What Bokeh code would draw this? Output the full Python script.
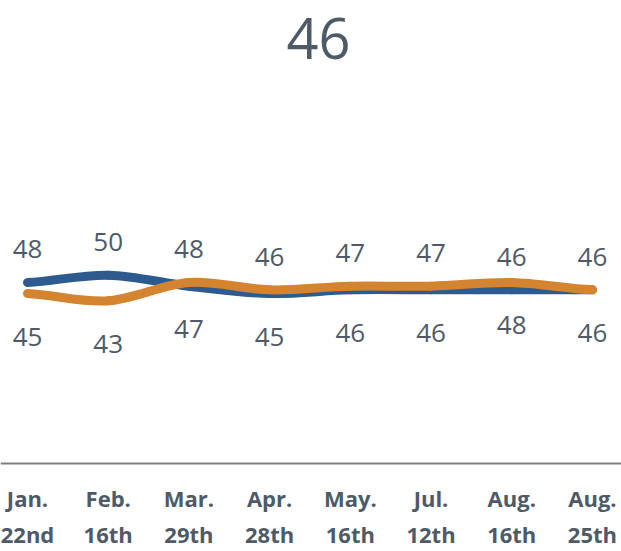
import numpy as np
from bokeh.plotting import figure
from bokeh.models import ColumnDataSource, Range1d, Span
from bokeh.core.properties import value
from bokeh.embed import file_html
from bokeh.resources import INLINE

# ---- data ----
months = ["Jan.", "Feb.", "Mar.", "Apr.", "May.", "Jul.", "Aug.", "Aug."]
days = ["22nd", "16th", "29th", "28th", "16th", "12th", "16th", "25th"]
headline = "46"
blue_values = [48, 50, 47, 45, 46, 46, 46, 46]
orange_values = [45, 43, 48, 46, 47, 47, 48, 46]
# which series' label sits above the lines at each date
top_label_series = ["blue", "blue", "orange", "orange", "orange", "orange", "blue", "blue"]

BLUE = "#2d5b8f"
ORANGE = "#d4842f"
TEXT = "#4e5a68"
FONT = "Open Sans"

x = np.arange(len(months), dtype=float)
series = {"blue": np.array(blue_values, float), "orange": np.array(orange_values, float)}

p = figure(width=621, height=551,
           x_range=Range1d(-0.3345, 7.360), y_range=Range1d(-25.30, 124.84),
           output_backend="svg", toolbar_location=None,
           x_axis_location=None, y_axis_location=None,
           min_border=0, min_border_left=0, min_border_right=0,
           min_border_top=0, min_border_bottom=0)
p.outline_line_color = None
p.grid.visible = False
p.background_fill_color = "white"
p.border_fill_color = "white"


def bezier_source(xs, ys):
    n = len(xs)
    ext = np.concatenate([[ys[0]], ys, [ys[-1]]])
    x0 = xs[:-1]; x1 = xs[1:]
    y0 = ys[:-1]; y1 = ys[1:]
    d = (xs[1] - xs[0]) / 3.0
    cy0 = y0 + (ext[2:n + 1] - ext[0:n - 1]) / 6.0
    cy1 = y1 - (ext[3:n + 2] - ext[1:n]) / 6.0
    return ColumnDataSource(dict(x0=x0, y0=y0, x1=x1, y1=y1,
                                 cx0=x0 + d, cy0=cy0, cx1=x1 - d, cy1=cy1))


for name, color in [("blue", BLUE), ("orange", ORANGE)]:
    src = bezier_source(x, series[name])
    p.bezier(x0="x0", y0="y0", x1="x1", y1="y1", cx0="cx0", cy0="cy0",
             cx1="cx1", cy1="cy1", source=src, line_color=color,
             line_width=9, line_cap="round")

top_vals, bot_vals = [], []
for i, s in enumerate(top_label_series):
    other = "orange" if s == "blue" else "blue"
    top_vals.append(series[s][i])
    bot_vals.append(series[other][i])

lab_top = ColumnDataSource(dict(x=x, y=top_vals, t=[str(int(v)) for v in top_vals]))
lab_bot = ColumnDataSource(dict(x=x, y=bot_vals, t=[str(int(v)) for v in bot_vals]))
common = dict(text="t", text_font=value(FONT), text_font_size="26px",
              text_color=TEXT, text_align="center", text_baseline="middle")
p.text(x="x", y="y", source=lab_top, y_offset=-33, **common)
p.text(x="x", y="y", source=lab_bot, y_offset=43, **common)

# axis line
axis_y = -1.32
p.add_layout(Span(location=axis_y, dimension="width", line_color="#808080", line_width=2))

ax_src = ColumnDataSource(dict(x=x, y=[axis_y] * len(x), m=months, d=days))
axc = dict(text_font=value(FONT), text_font_size="22px", text_font_style="bold",
           text_color=TEXT, text_align="center", text_baseline="middle")
p.text(x="x", y="y", text="m", source=ax_src, y_offset=35, **axc)
p.text(x="x", y="y", text="d", source=ax_src, y_offset=71, **axc)

# headline
p.text(x=[3.605], y=[114.5], text=[headline], text_font=value(FONT),
       text_font_size="56px", text_color=TEXT, text_align="center",
       text_baseline="middle")

open("out.html", "w").write(file_html(p, INLINE))
